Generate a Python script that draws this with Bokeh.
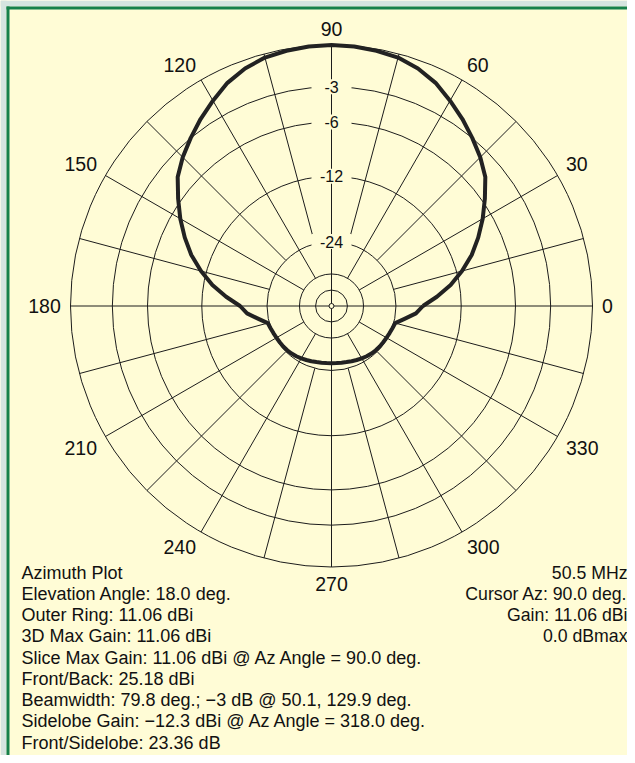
import numpy as np
from bokeh.plotting import figure
from bokeh.models import Range1d, ColumnDataSource
from bokeh.core.properties import value
from bokeh.embed import file_html
from bokeh.resources import INLINE

# ---------------- data ----------------
ring_db = [0, -3, -6, -12, -24, -36, -48]
ring_label_db = [-3, -6, -12, -24]
ring_label_text = ["-3", "-6", "-12", "-24"]

angle_label_deg = [0, 30, 60, 90, 120, 150, 180, 210, 240, 270, 300, 330]
angle_label_text = ["0", "30", "60", "90", "120", "150", "180", "210", "240", "270", "300", "330"]

spoke_full_deg = [0, 90, 180, 270]
spoke_30_deg = [30, 60, 120, 150, 210, 240, 300, 330]
spoke_15_deg = [15, 45, 75, 105, 135, 165, 195, 225, 255, 285, 315, 345]

pattern_az = [0, 5, 10, 15, 20, 25, 30, 35, 40, 45, 50, 55, 60, 65, 70, 75, 80, 85,
              90, 95, 100, 105, 110, 115, 120, 125, 130, 135, 140, 145, 150, 155, 160, 165, 170, 175,
              180, 185, 190, 195, 200, 205, 210, 215, 220, 225, 230, 235, 240, 245, 250, 255, 260, 265,
              270, 275, 280, 285, 290, 295, 300, 305, 310, 315, 320, 325, 330, 335, 340, 345, 350, 355, 360]
pattern_db = [-18.0, -15.5, -13.2, -11.3, -9.6, -8.2, -6.9, -5.7, -4.5, -3.7, -3.0, -2.3, -1.65, -1.0, -0.55, -0.25, -0.12, -0.03,
              0.0, -0.03, -0.12, -0.25, -0.55, -1.0, -1.65, -2.3, -3.0, -3.7, -4.5, -5.7, -6.9, -8.2, -9.6, -11.3, -13.2, -15.5,
              -18.0, -19.3, -21.6, -23.6, -23.9, -24.1, -24.25, -24.35, -24.4, -24.5, -24.65, -24.85, -25.1, -25.35, -25.6, -25.8, -25.95, -26.03,
              -26.06, -26.03, -25.95, -25.8, -25.6, -25.35, -25.1, -24.85, -24.65, -24.5, -24.4, -24.35, -24.25, -24.1, -23.9, -23.6, -21.6, -19.3, -18.0]

info_left = [
    "Azimuth Plot",
    "Elevation Angle: 18.0 deg.",
    "Outer Ring: 11.06 dBi",
    "3D Max Gain: 11.06 dBi",
    "Slice Max Gain: 11.06 dBi @ Az Angle = 90.0 deg.",
    "Front/Back: 25.18 dBi",
    "Beamwidth: 79.8 deg.; \u22123 dB @ 50.1, 129.9 deg.",
    "Sidelobe Gain: \u221212.3 dBi @ Az Angle = 318.0 deg.",
    "Front/Sidelobe: 23.36 dB",
]
info_right = ["50.5 MHz", "Cursor Az: 90.0 deg.", "Gain: 11.06 dBi", "0.0 dBmax"]

# ---------------- layout helpers ----------------
BG = "#fffcd6"
GRID = "#1c1c1c"
FONT = "Liberation Sans"
W, H = 627, 755
CX, CY, R = 331.0, 305.5, 261.0  # pixels inside the figure


def px(xp):
    return (xp - CX) / R


def py(yp):
    return (CY - yp) / R


def rad(db):
    # ARRL log scale: 0.89 per 2 dB
    return np.power(0.89, -np.asarray(db, dtype=float) / 2.0)


p = figure(width=W, height=H, output_backend="svg", toolbar_location=None,
           x_range=Range1d(px(0), px(W)), y_range=Range1d(py(H), py(0)),
           x_axis_type=None, y_axis_type=None, min_border=0,
           background_fill_color=BG, border_fill_color=BG, outline_line_color=None)
p.grid.visible = False

# window frame: grey strip then green border (top and left)
p.quad(left=[px(0), px(0)], right=[px(W), px(6)], top=[py(0), py(0)], bottom=[py(6), py(H)],
       fill_color="#d6e4df", line_color=None)
p.quad(left=[px(6), px(6)], right=[px(W), px(9)], top=[py(6), py(6)], bottom=[py(9), py(H)],
       fill_color="#17804a", line_color=None)

# rings
rr = rad(ring_db)
p.circle(x=np.zeros(len(rr)), y=np.zeros(len(rr)), radius=rr, fill_color=None,
         line_color=GRID, line_width=1)

# spokes
def spokes(angles, r0):
    a = np.radians(angles)
    return dict(x0=r0 * np.cos(a), y0=r0 * np.sin(a), x1=np.cos(a), y1=np.sin(a))

for angs, r0 in [(spoke_full_deg, 0.0), (spoke_30_deg, float(rad(-36))), (spoke_15_deg, float(rad(-24)))]:
    p.segment(source=ColumnDataSource(spokes(angs, r0)), x0="x0", y0="y0", x1="x1", y1="y1",
              line_color=GRID, line_width=1)

# center mark
p.scatter(x=[0], y=[0], size=5, marker="circle", fill_color=BG, line_color=GRID, line_width=1)

# ring labels with background boxes on the 90 deg spoke
lr = rad(ring_label_db)
p.rect(x=np.zeros(len(lr)), y=lr, width=40, height=15, width_units="screen", height_units="screen",
       fill_color=BG, line_color=None)
p.text(x=np.zeros(len(lr)), y=lr, text=ring_label_text, text_font=value(FONT), text_font_size="16px",
       text_align="center", text_baseline="middle", text_color="#111111")

# pattern
pr = rad(pattern_db)
pa = np.radians(pattern_az)
p.line(x=pr * np.cos(pa), y=pr * np.sin(pa), line_color="#222222", line_width=4.0, line_join="round")

# angle labels around the outer ring: nearest corner of each label box sits just outside the ring
la = np.radians(angle_label_deg)
cx, sx = np.round(np.cos(la), 6), np.round(np.sin(la), 6)
hw = np.array([len(t) * 5.5 for t in angle_label_text]) / R
hh = 7.0 / R
r_corner = 270.5 / R
lx = r_corner * cx + np.sign(cx) * hw
ly = r_corner * sx + np.sign(sx) * hh
p.text(x=lx, y=ly, text=angle_label_text, text_font=value(FONT),
       text_font_size="19.5px", text_align="center", text_baseline="middle", text_color="#111111")

# info texts
yl = [py(572 + i * 21.25) for i in range(len(info_left))]
p.text(x=[px(21)] * len(info_left), y=yl, text=info_left, text_font=value(FONT), text_font_size="18px",
       text_align="left", text_baseline="middle", text_color="#111111")
yr = [py(572 + i * 21.25) for i in range(len(info_right))]
p.text(x=[px(627)] * len(info_right), y=yr, text=info_right, text_font=value(FONT), text_font_size="17.7px",
       text_align="right", text_baseline="middle", text_color="#111111")

open("out.html", "w").write(file_html(p, INLINE))
